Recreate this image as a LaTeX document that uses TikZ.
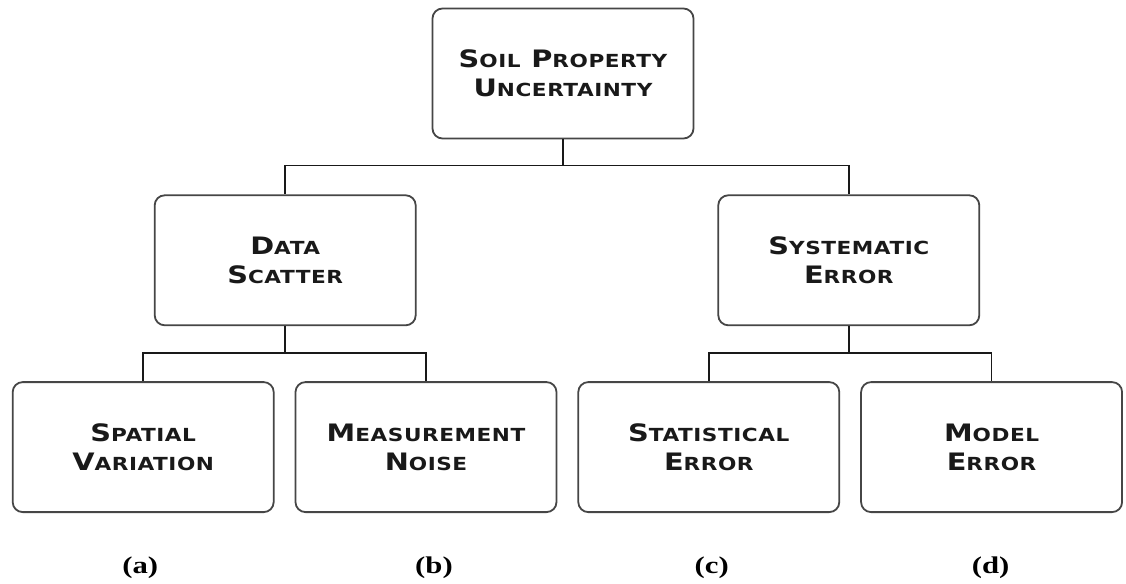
\documentclass[tikz,border=0pt]{standalone}
\usepackage{fontspec}
\usepackage{tikz}
\usetikzlibrary{
  positioning,
  calc
}
\setmainfont{Liberation Serif}
\newfontfamily\boxfont[FakeStretch=1.2,LetterSpace=3]{DejaVu Sans Bold}
\newfontfamily\labelfont[FakeStretch=1.28]{Liberation Serif}
\definecolor{boxborder}{RGB}{70,70,70}
\definecolor{linegray}{RGB}{25,25,25}
\definecolor{textdark}{RGB}{25,25,25}
\newcommand\smcap[2]{{\fontsize{12}{14.5}\selectfont #1}{\fontsize{9}{14.5}\selectfont #2}}
\tikzset{
  catbox/.style={
    draw=boxborder, fill=white, line width=0.9pt,
    rounded corners=5pt, minimum width=130.5pt,
    minimum height=65pt, align=center,
    font=\boxfont\fontsize{12}{14.5}\selectfont\color{textdark}
  },
  treeline/.style={
    draw=linegray, line width=0.85pt
  },
  caselabel/.style={
    font=\labelfont\bfseries\fontsize{12}{14}\selectfont, inner sep=0pt
  },
}

\begin{document}
\begin{tikzpicture}[node distance=27.5pt and 10pt]

  \useasboundingbox[fill=white] (-281.5pt,36.75pt) rectangle (281.5pt,-255.25pt);

  %% Root
  \node[catbox] (spu)
    {\smcap{S}{OIL} \smcap{P}{ROPERTY}\\\smcap{U}{NCERTAINTY}};

  %% Sources
  \node[catbox, below left=27.5pt and 7.5pt of spu] (dsc)
    {\smcap{D}{ATA}\\\smcap{S}{CATTER}};
  \node[catbox, below right=27.5pt and 11.5pt of spu] (sys)
    {\smcap{S}{YSTEMATIC}\\\smcap{E}{RROR}};

  \draw[treeline] (spu.south) -- ++(0,-13pt) -| (dsc.north);
  \draw[treeline] (spu.south) -- ++(0,-13pt) -| (sys.north);

  %% Components
  \node[catbox, below=27.5pt of dsc, xshift=-71pt] (spv)
    {\smcap{S}{PATIAL}\\\smcap{V}{ARIATION}};
  \node[catbox, right=of spv] (msn)
    {\smcap{M}{EASUREMENT}\\\smcap{N}{OISE}};
  \node[catbox, right=of msn] (ste)
    {\smcap{S}{TATISTICAL}\\\smcap{E}{RROR}};
  \node[catbox, right=of ste] (mde)
    {\smcap{M}{ODEL}\\\smcap{E}{RROR}};

  \draw[treeline] (dsc.south) -- ++(0,-13.5pt) -| (spv.north);
  \draw[treeline] (dsc.south) -- ++(0,-13.5pt) -| (msn.north);
  \draw[treeline] (sys.south) -- ++(0,-13.5pt) -| (ste.north);
  \draw[treeline] (sys.south) -- ++(0,-13.5pt) -| (mde.north);

  %% Case labels
  \node[caselabel, below=21.5pt of spv, xshift=-1.5pt] (la) {(a)};
  \node[caselabel, below=21.5pt of msn, xshift=4pt] (lb) {(b)};
  \node[caselabel, below=21.5pt of ste, xshift=1.5pt] (lc) {(c)};
  \node[caselabel, below=21.5pt of mde, xshift=-0.5pt] (ld) {(d)};

\end{tikzpicture}
\end{document}
